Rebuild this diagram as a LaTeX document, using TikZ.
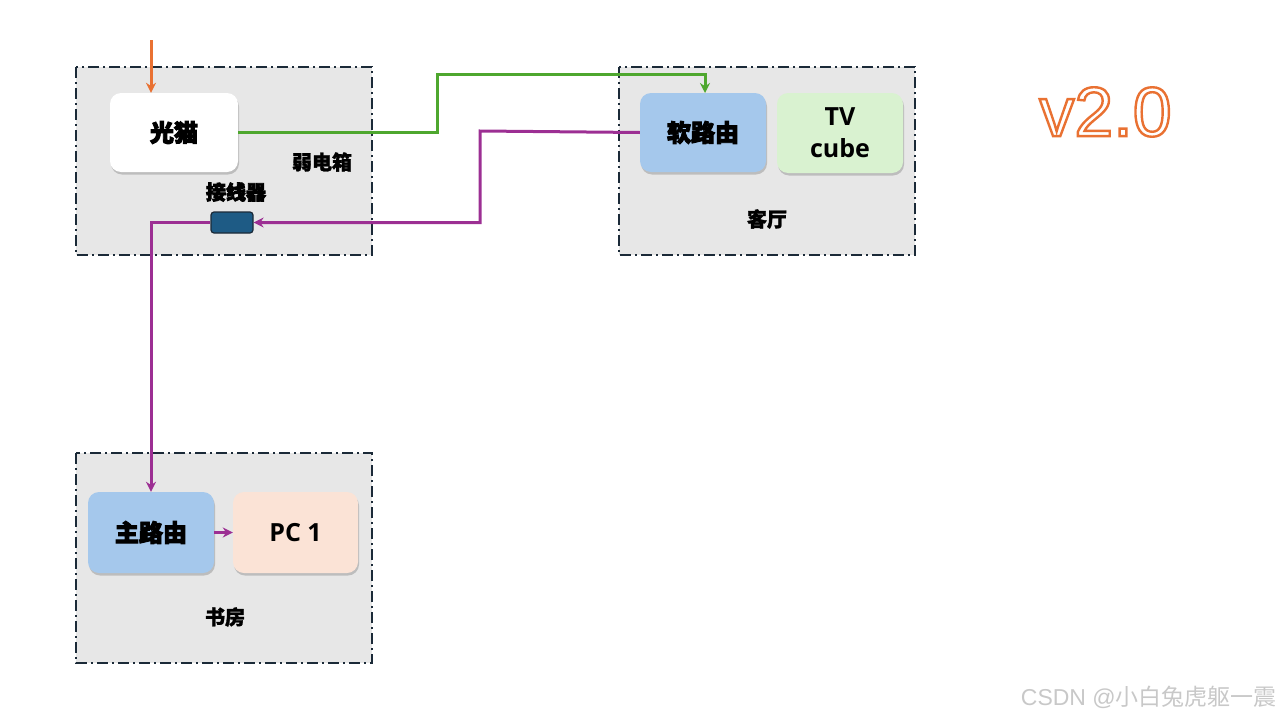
\documentclass[tikz,border=0pt]{standalone}
\usepackage{fontspec}
\usetikzlibrary{shadows,arrows.meta}
\newfontfamily\cjk{Noto Sans CJK SC}[BoldFeatures={FakeBold=4}]
\newfontfamily\cjkm{Noto Sans CJK SC}[BoldFeatures={FakeBold=1.5}]
\newfontfamily\lat{Open Sans}
\newfontfamily\vfont{Liberation Sans}
\definecolor{roomfill}{HTML}{E7E7E7}
\definecolor{roomline}{HTML}{1B2A38}
\definecolor{bluefill}{HTML}{A5C8EC}
\definecolor{greenfill}{HTML}{D9F2D0}
\definecolor{peachfill}{HTML}{FBE3D6}
\definecolor{jackfill}{HTML}{1E5B85}
\definecolor{wgreen}{HTML}{4EA72E}
\definecolor{wpurple}{HTML}{9C2F93}
\definecolor{worange}{HTML}{E97132}
\definecolor{wmark}{HTML}{C8C8C8}
\newcommand\outlinetext[1]{\special{pdf:literal direct 2 Tr 2.4 w 0.914 0.443 0.196 RG}#1\special{pdf:literal direct 0 Tr}}
\tikzset{
  room/.style={draw=roomline, fill=roomfill, line width=2.4pt,
    dash pattern=on 11pt off 4pt on 2pt off 4pt},
  dev/.style={rounded corners=11pt, draw=none, inner sep=0pt,
    drop shadow={opacity=0.4, shadow xshift=1pt, shadow yshift=-2.5pt},
    font=\cjk\bfseries\fontsize{24}{28}\selectfont, align=center},
  roomlabel/.style={font=\cjkm\bfseries\fontsize{20}{24}\selectfont, inner sep=0pt},
  wire/.style={line width=3pt, -{Stealth[length=10pt,width=10pt]}},
}
\begin{document}
\begin{tikzpicture}[x=1pt,y=-1pt]
\useasboundingbox (0,0) rectangle (1280,720);
% rooms
\draw[room] (76,67) rectangle (372,255);
\draw[room] (619,67) rectangle (915,255);
\draw[room] (76,453) rectangle (372,663);
% devices
\node[dev, fill=white, minimum width=128pt, minimum height=79pt] (modem) at (174,132.5) {光猫};
\node[roomlabel] (weak) at (322,162) {弱电箱};
\node[roomlabel, font=\cjk\bfseries\fontsize{20}{24}\selectfont] (jacklabel) at (236,192) {接线器};
\node[draw=roomline, fill=jackfill, rounded corners=3pt, line width=1.2pt,
  minimum width=42pt, minimum height=21pt, inner sep=0pt] (jack) at (232,222.5) {};
\node[dev, fill=bluefill, minimum width=126pt, minimum height=79pt] (soft) at (703,132.5) {软路由};
\node[dev, fill=greenfill, minimum width=126pt, minimum height=80pt,
  font=\lat\bfseries\fontsize{25}{32}\selectfont] (tv) at (840,133) {TV\\cube};
\node[roomlabel] (living) at (767,219) {客厅};
\node[dev, fill=bluefill, minimum width=126pt, minimum height=81pt] (main) at (151,532.5) {主路由};
\node[dev, fill=peachfill, minimum width=125pt, minimum height=81pt,
  font=\lat\bfseries\fontsize{25}{30}\selectfont] (pc) at (295.5,532.5) {PC 1};
\node[roomlabel] (study) at (225,617) {书房};
% wires
\coordinate (fiber) at (151,40);
\draw[wire, worange] (fiber) -- (fiber |- modem.north);
\draw[wire, wgreen] (modem.east) -- (437,132.5) -- (437,74) -- (705,74) -- (705,93);
\draw[wire, wpurple] (soft.west) -- (480,131) -- (480,222.5) -- (jack.east);
\draw[wire, wpurple] (jack.west) -- (151,222.5) -- (main.north);
\draw[wire, wpurple] (main.east) -- (pc.west);
% version
\node[inner sep=0pt, text=white, font=\vfont\fontsize{70}{80}\selectfont] (ver) at (1105.5,112) {\outlinetext{v2.0}};
% watermark
\node[inner sep=0pt, anchor=east, text=wmark, font=\vfont\fontsize{23}{27}\selectfont] (wm) at (1277,697) {CSDN @{\cjk 小白兔虎躯一震}};
\end{tikzpicture}
\end{document}
